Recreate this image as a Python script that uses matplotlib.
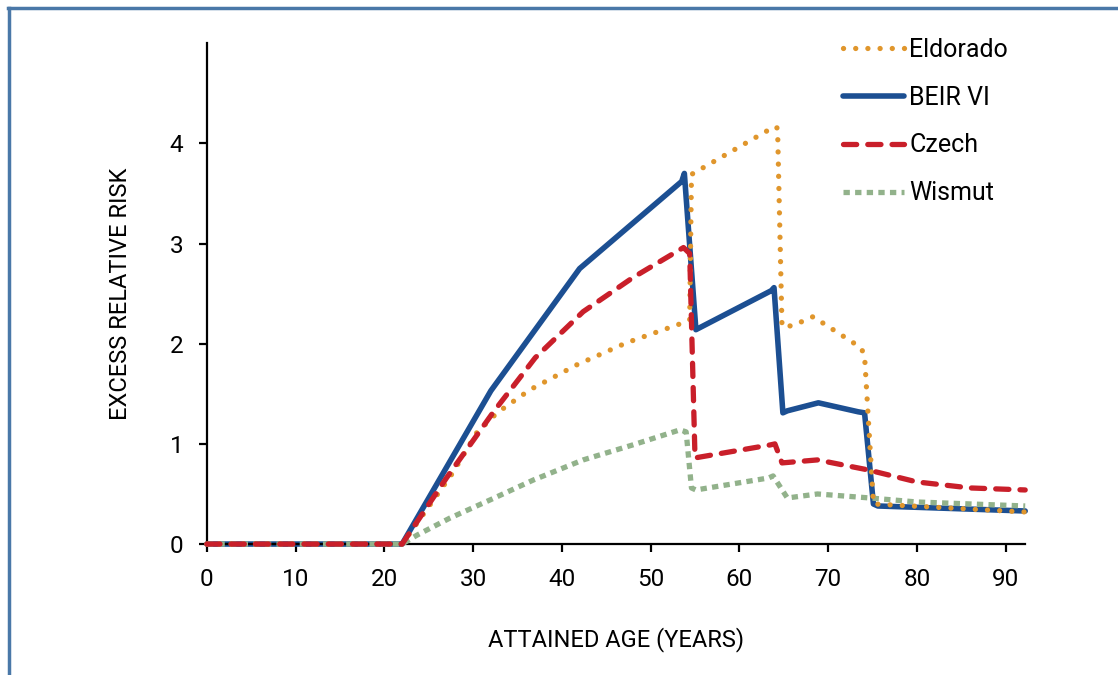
import matplotlib
matplotlib.use('Agg')
import matplotlib.pyplot as plt
from matplotlib.lines import Line2D

plt.rcParams['font.family'] = ['Roboto', 'DejaVu Sans']

# attained age (years) and excess relative risk for each model
age_eldorado = [0, 22, 27.7, 30.4, 32.7, 36.4, 41.7, 47.3, 53.7, 54.4, 54.6, 64.0, 64.3, 64.8,
                66.0, 68.3, 73.7, 74.1, 75.1, 92.2]
err_eldorado = [0, 0, 0.71, 1.11, 1.31, 1.54, 1.79, 2.01, 2.21, 2.24, 3.69, 4.17, 4.15, 2.17,
                2.18, 2.27, 1.96, 1.88, 0.40, 0.32]

age_beir = [0, 22, 32, 42, 53.5, 53.8, 55.1, 63.6, 63.9, 64.9, 65.4, 68.9, 73.4, 74.1, 75.1, 75.6, 92.2]
err_beir = [0, 0, 1.53, 2.75, 3.62, 3.70, 2.14, 2.53, 2.56, 1.31, 1.33, 1.41, 1.32, 1.31, 0.40, 0.38, 0.33]

age_czech = [0, 22, 27, 32.3, 37, 42.4, 48, 53.7, 54.4, 55.0, 63.5, 64.0, 64.8, 68.8, 74.5,
             80, 86, 92.2]
err_czech = [0, 0, 0.66, 1.32, 1.86, 2.32, 2.66, 2.96, 2.9, 0.86, 0.99, 1.0, 0.81, 0.84, 0.74,
             0.62, 0.56, 0.54]

age_wismut = [0, 22, 23.7, 27.4, 31.9, 36.8, 42.4, 48, 53.3, 54.0, 54.6, 55.1, 63.3, 63.8, 65.4,
              68.8, 74.7, 80, 92.2]
err_wismut = [0, 0, 0.09, 0.26, 0.44, 0.64, 0.84, 0.99, 1.14, 1.12, 0.56, 0.54, 0.66, 0.68, 0.46,
              0.50, 0.46, 0.42, 0.38]

labels = ['Eldorado', 'BEIR VI', 'Czech', 'Wismut']

c_orange = '#E0962C'
c_blue = '#1C4F92'
c_red = '#C91F2A'
c_green = '#92B28B'

fig = plt.figure(figsize=(11.18, 6.75), dpi=100)
ax = fig.add_axes([0.185, 0.194, 0.917 - 0.185, 0.936 - 0.194])

l_blue, = ax.plot(age_beir, err_beir, color=c_blue, lw=4.0, solid_capstyle='round',
                  solid_joinstyle='round', clip_on=False, zorder=2)
l_green, = ax.plot(age_wismut, err_wismut, color=c_green, lw=3.8, linestyle=(0, (1.2, 1.0)),
                   dash_capstyle='butt', clip_on=False, zorder=3)
l_orange, = ax.plot(age_eldorado, err_eldorado, color=c_orange, lw=3.8, linestyle=(0, (0.01, 2.3)),
                    dash_capstyle='round', clip_on=False, zorder=4)
l_red, = ax.plot(age_czech, err_czech, color=c_red, lw=3.8, linestyle=(0, (2.5, 2.1)),
                 dash_capstyle='round', clip_on=False, zorder=5)

ax.set_xlim(0, 92.2)
ax.set_ylim(0, 5)
ax.set_xticks(range(0, 100, 10))
ax.set_yticks([0, 1, 2, 3, 4])
for s in ['top', 'right']:
    ax.spines[s].set_visible(False)
for s in ['left', 'bottom']:
    ax.spines[s].set_linewidth(1.6)
ax.tick_params(direction='out', length=6, width=1.6, labelsize=17.5, pad=11)

ax.set_xlabel('ATTAINED AGE (YEARS)', fontsize=17, labelpad=26)
ax.set_ylabel('EXCESS RELATIVE RISK', fontsize=17, labelpad=27)

leg = ax.legend([l_orange, l_blue, l_red, l_green], labels, loc='upper left',
                bbox_to_anchor=(843 / 1118, 1 - 38 / 675), bbox_transform=fig.transFigure,
                frameon=False, fontsize=18, handlelength=2.45, handletextpad=0.2,
                labelspacing=0.95, borderaxespad=0, borderpad=0)

# blue frame on top and left edges
fig.add_artist(Line2D([8 / 1118, 1], [1 - 8 / 675] * 2, transform=fig.transFigure,
                      color='#4A78A8', lw=2.5))
fig.add_artist(Line2D([9 / 1118] * 2, [0, 1 - 8 / 675], transform=fig.transFigure,
                      color='#4A78A8', lw=2.5))

fig.savefig('out.png', dpi=100)
